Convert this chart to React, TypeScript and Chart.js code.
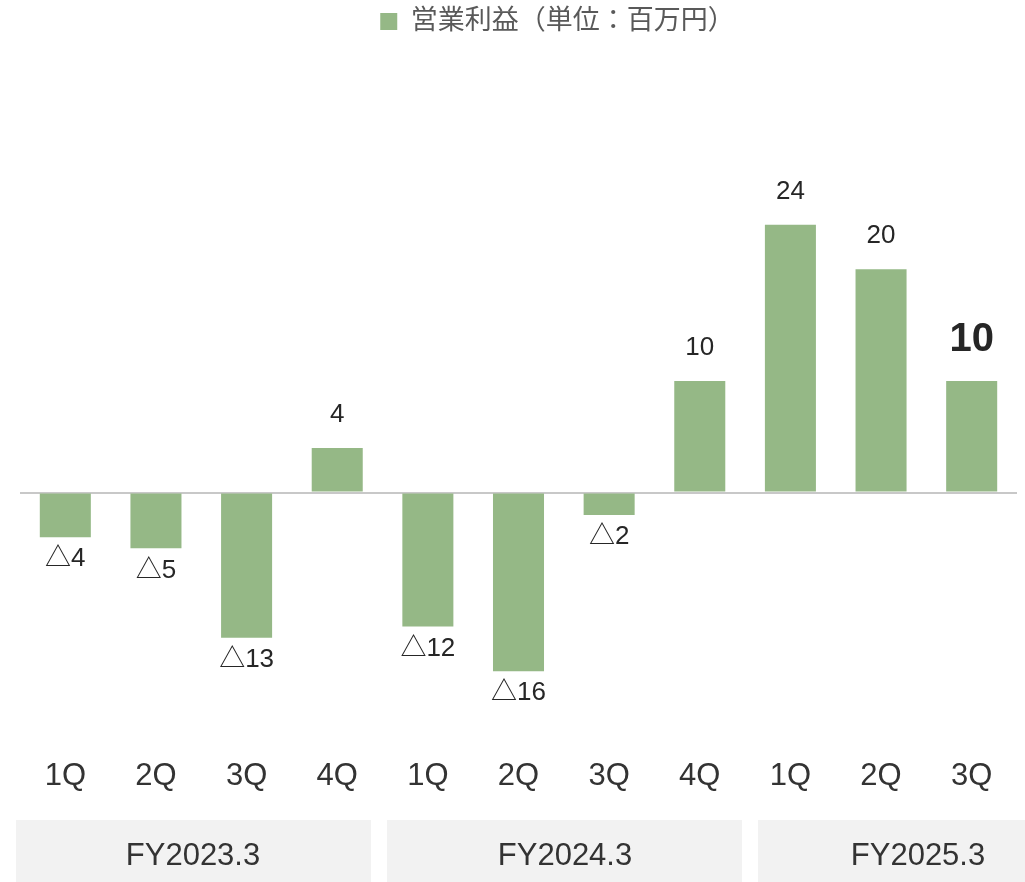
import React, { useEffect, useRef } from 'react';
import { Chart, registerables } from 'chart.js';

Chart.register(...registerables);

// ---- data ----
const categories = ['1Q', '2Q', '3Q', '4Q', '1Q', '2Q', '3Q', '4Q', '1Q', '2Q', '3Q'];
const operatingProfit = [-4, -5, -13, 4, -12, -16, -2, 10, 24, 20, 10];
const fiscalYears = ['FY2023.3', 'FY2024.3', 'FY2025.3'];
const seriesLabel = '営業利益（単位：百万円）';

// ---- layout / style constants ----
const W = 1025;
const H = 882;
const FONT = "'Liberation Sans', Arial, 'Noto Sans CJK JP', sans-serif";
const BAR_COLOR = '#95b886';
const GROUP_BOXES = [
  { left: 16, right: 371, textX: 193 },
  { left: 387, right: 742, textX: 565 },
  { left: 758, right: 1025, textX: 918 },
];
const GROUP_TOP = 820;
const GROUP_BOTTOM = 882;
const LEGEND_EXTRA = 135;
const LEGEND_SHIFT_X = 39;

const legendSpacer = {
  id: 'legendSpacer',
  beforeInit(chart: any) {
    const legend = chart.legend;
    if (!legend) return;
    const fit = legend.fit;
    legend.fit = function () {
      fit.call(this);
      this.height += LEGEND_EXTRA;
    };
    const draw = legend.draw;
    legend.draw = function () {
      const ctx = this.ctx;
      ctx.save();
      ctx.translate(LEGEND_SHIFT_X, 0);
      draw.call(this);
      ctx.restore();
    };
  },
};

const decorations = {
  id: 'decorations',
  afterDraw(chart: any) {
    const { ctx } = chart;
    ctx.save();
    // group boxes
    GROUP_BOXES.forEach((b, i) => {
      ctx.fillStyle = '#f2f2f2';
      ctx.fillRect(b.left, GROUP_TOP, b.right - b.left, GROUP_BOTTOM - GROUP_TOP);
      ctx.fillStyle = '#333333';
      ctx.font = `31px ${FONT}`;
      ctx.textAlign = 'center';
      ctx.textBaseline = 'middle';
      ctx.fillText(fiscalYears[i], b.textX, (GROUP_TOP + GROUP_BOTTOM) / 2 + 5);
    });
    // data labels
    const meta = chart.getDatasetMeta(0);
    const last = operatingProfit.length - 1;
    meta.data.forEach((bar: any, i: number) => {
      const v = operatingProfit[i];
      const text = v < 0 ? '△' + Math.abs(v) : String(v);
      const bold = i === last;
      ctx.font = bold ? `bold 40px ${FONT}` : `26px ${FONT}`;
      ctx.fillStyle = '#262626';
      ctx.textAlign = 'center';
      ctx.textBaseline = 'middle';
      const y = v >= 0 ? bar.y - (bold ? 41 : 33) : bar.y + 22;
      ctx.fillText(text, bar.x, y);
    });
    ctx.restore();
  },
};

export default function App() {
  const ref = useRef<HTMLCanvasElement | null>(null);

  useEffect(() => {
    if (!ref.current) return;
    const chart = new Chart(ref.current, {
      type: 'bar',
      data: {
        labels: categories,
        datasets: [
          {
            label: seriesLabel,
            data: operatingProfit,
            backgroundColor: BAR_COLOR,
            borderWidth: 0,
            categoryPercentage: 1,
            barPercentage: 0.563,
          },
        ],
      },
      options: {
        responsive: false,
        animation: false,
        layout: { padding: { left: 20, right: 8, top: 0, bottom: 87 } },
        plugins: {
          legend: {
            display: true,
            position: 'top',
            labels: {
              boxWidth: 17,
              boxHeight: 17,
              padding: 8,
              color: '#595959',
              font: { family: FONT, size: 27 },
            },
          },
          tooltip: { enabled: false },
        },
        scales: {
          x: {
            grid: {
              display: true,
              drawOnChartArea: false,
              drawTicks: true,
              tickLength: 42,
              color: 'rgba(0,0,0,0)',
            },
            border: { display: false },
            ticks: {
              color: '#333333',
              padding: 0,
              font: { family: FONT, size: 31 },
              maxRotation: 0,
              autoSkip: false,
            },
          },
          y: {
            min: -20,
            max: 28,
            border: { display: false },
            grid: {
              drawTicks: false,
              lineWidth: 2,
              color: (c: any) => (c.tick && c.tick.value === 0 ? '#c8c8c8' : 'rgba(0,0,0,0)'),
            },
            ticks: { display: false, stepSize: 4 },
          },
        },
      },
      plugins: [legendSpacer, decorations],
    });
    return () => chart.destroy();
  }, []);

  return (
    <div style={{ position: 'absolute', left: 0, top: 0, width: W, height: H, background: '#ffffff' }}>
      <canvas ref={ref} width={W} height={H} style={{ display: 'block' }} />
    </div>
  );
}
